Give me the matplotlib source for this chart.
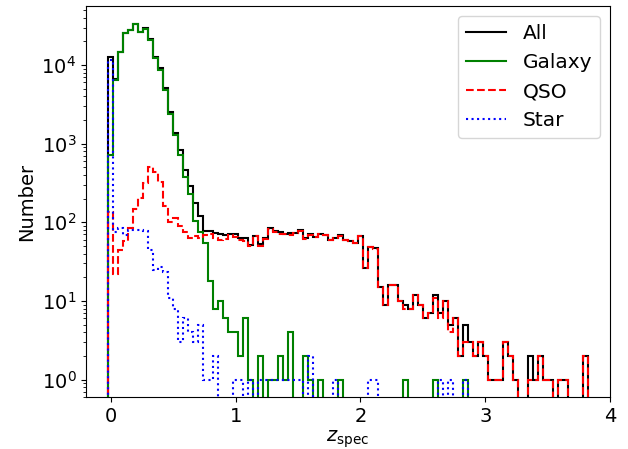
import numpy as np
import matplotlib
matplotlib.use("Agg")
import matplotlib.pyplot as plt
from matplotlib.lines import Line2D

# bin definition (z_spec), width 0.04 starting at -0.02
bin_edges = np.linspace(-0.02, 3.82, 97)

all_counts = [12600, 6600, 14800, 25700, 27800, 33500, 26600, 29400, 21200, 12800,
              9100, 5050, 2500, 1360, 835, 465, 292, 175, 120, 78,
              78, 74, 70, 68, 72, 70, 63, 64, 52, 67,
              53, 63, 85, 78, 75, 72, 74, 74, 79, 63,
              72, 65, 71, 68, 59, 64, 68, 59, 57, 55,
              67, 26, 49, 47, 15, 9, 16, 16, 10, 9,
              8, 12, 9, 6, 7, 12, 7, 10, 5, 6,
              2, 5, 3, 2, 3, 2, 1, 1, 1, 3,
              2, 1, 0, 0, 2, 1, 2, 1, 1, 0,
              1, 1, 0, 0, 0, 2]

galaxy_counts = [720, 6500, 14650, 25600, 27600, 33300, 26300, 29000, 20600, 12300,
                 8700, 4850, 2380, 1290, 720, 380, 232, 103, 75, 55,
                 18, 8, 10, 6, 4, 4, 2, 6, 1, 0,
                 2, 0, 1, 1, 2, 1, 4, 0, 0, 2,
                 1, 0, 1, 0, 0, 0, 1, 0, 0, 0,
                 0, 0, 0, 0, 0, 0, 0, 0, 0, 1,
                 0, 0, 0, 0, 0, 1, 0, 0, 0, 0,
                 0, 1, 0, 0, 0, 0, 0, 0, 0, 0,
                 0, 0, 0, 0, 0, 0, 0, 0, 0, 0,
                 0, 0, 0, 0, 0, 0]

qso_counts = [136, 22, 44, 58, 84, 146, 202, 314, 511, 430,
              330, 160, 100, 112, 91, 76, 64, 66, 64, 69,
              72, 64, 60, 62, 68, 65, 60, 58, 50, 67,
              50, 61, 83, 76, 72, 70, 69, 73, 78, 61,
              69, 65, 70, 68, 59, 63, 67, 59, 57, 55,
              67, 26, 48, 46, 15, 9, 16, 16, 10, 8,
              8, 12, 9, 6, 7, 11, 6, 10, 4, 6,
              2, 3, 3, 2, 3, 2, 1, 1, 1, 3,
              2, 1, 0, 0, 1, 1, 2, 1, 1, 0,
              1, 1, 0, 0, 0, 2]

star_counts = [11700, 75, 84, 69, 80, 79, 80, 78, 44, 25,
               27, 23, 11, 8, 3, 6, 4, 3, 5, 1,
               1, 2, 0, 0, 0, 1, 1, 0, 1, 0,
               1, 1, 1, 1, 1, 1, 1, 1, 1, 0,
               2, 0, 0, 0, 0, 1, 0, 0, 0, 0,
               0, 0, 1, 1, 0, 0, 0, 0, 0, 0,
               0, 0, 0, 0, 0, 0, 1, 0, 1, 0,
               0, 1, 0, 0, 0, 0, 0, 0, 0, 0,
               0, 0, 0, 0, 0, 0, 0, 0, 0, 0,
               0, 0, 0, 0, 0, 0]

labels = ["All", "Galaxy", "QSO", "Star"]

fig = plt.figure(figsize=(6.28, 4.49), dpi=100)
ax = fig.add_axes([86/628, 1 - 397.3/449, (610 - 86)/628, (397.3 - 6)/449])
ax.set_yscale("log")

ax.stairs(all_counts, bin_edges, baseline=0, color="k", lw=1.5, ls="-", label=labels[0])
ax.stairs(galaxy_counts, bin_edges, baseline=0, color="g", lw=1.5, ls="-", label=labels[1])
ax.stairs(qso_counts, bin_edges, baseline=0, color="r", lw=1.5, ls="--", label=labels[2])
ax.stairs(star_counts, bin_edges, baseline=0, color="b", lw=1.5, ls=":", label=labels[3])

ax.set_xlim(-0.2, 4)
ax.set_ylim(10 ** -0.226, 10 ** 4.751)
ax.set_xticks([0, 1, 2, 3, 4])
ax.tick_params(labelsize=14)
ax.set_xlabel(r"$z_{\rm spec}$", fontsize=14, labelpad=2)
ax.set_ylabel("Number", fontsize=14)

handles = [Line2D([], [], color="k", lw=1.5, ls="-"),
           Line2D([], [], color="g", lw=1.5, ls="-"),
           Line2D([], [], color="r", lw=1.5, ls="--"),
           Line2D([], [], color="b", lw=1.5, ls=":")]
ax.legend(handles, labels, loc="upper right", fontsize=14.5)

fig.savefig("out.png", dpi=100)
